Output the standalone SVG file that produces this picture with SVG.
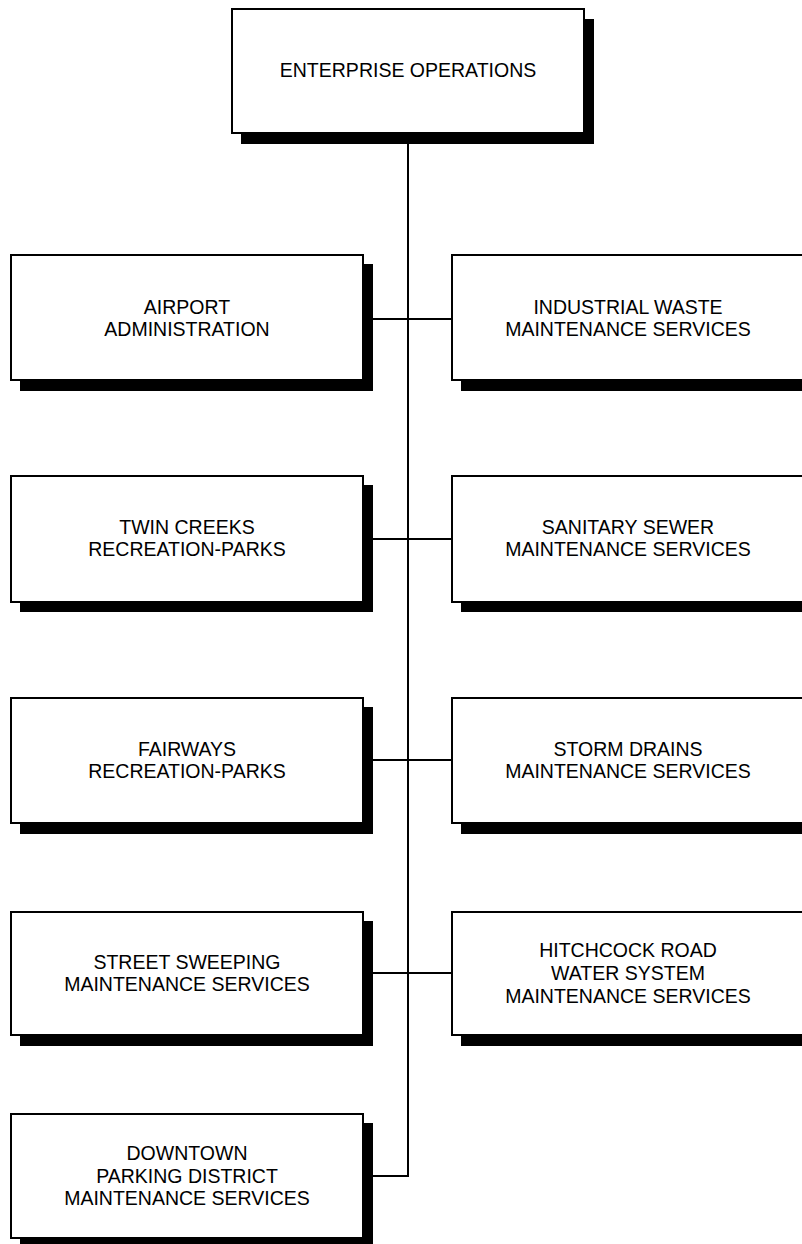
<svg xmlns="http://www.w3.org/2000/svg" width="802" height="1244" viewBox="0 0 802 1244">
<style>
.sh{fill:#000}
.bx{fill:#fff;stroke:#000;stroke-width:2}
.t{font-family:"Liberation Sans",Arial,sans-serif;font-size:19.5px;fill:#000;text-anchor:middle}
.c{fill:none;stroke:#000;stroke-width:2}
</style>
<rect width="802" height="1244" fill="#fff"/>
<g id="connectors">
<path class="c" d="M408,143 V1176 H373"/>
<path class="c" d="M373,319 H452"/>
<path class="c" d="M373,539 H452"/>
<path class="c" d="M373,760 H452"/>
<path class="c" d="M373,973 H452"/>
</g>
<g id="enterprise">
<rect class="sh" x="241" y="19" width="353" height="125"/>
<rect class="bx" x="232" y="9" width="352" height="124"/>
<text class="t" x="408" y="77">ENTERPRISE OPERATIONS</text>
</g>
<g id="airport">
<rect class="sh" x="20" y="264" width="353" height="127"/>
<rect class="bx" x="11" y="255" width="352" height="125"/>
<text class="t" x="187" y="314">AIRPORT</text>
<text class="t" x="187" y="336">ADMINISTRATION</text>
</g>
<g id="industrial">
<rect class="sh" x="461" y="264" width="353" height="127"/>
<rect class="bx" x="452" y="255" width="352" height="125"/>
<text class="t" x="628" y="314">INDUSTRIAL WASTE</text>
<text class="t" x="628" y="336">MAINTENANCE SERVICES</text>
</g>
<g id="twincreeks">
<rect class="sh" x="20" y="485" width="353" height="127"/>
<rect class="bx" x="11" y="476" width="352" height="126"/>
<text class="t" x="187" y="534">TWIN CREEKS</text>
<text class="t" x="187" y="556">RECREATION-PARKS</text>
</g>
<g id="sanitary">
<rect class="sh" x="461" y="485" width="353" height="127"/>
<rect class="bx" x="452" y="476" width="352" height="126"/>
<text class="t" x="628" y="534">SANITARY SEWER</text>
<text class="t" x="628" y="556">MAINTENANCE SERVICES</text>
</g>
<g id="fairways">
<rect class="sh" x="20" y="707" width="353" height="127"/>
<rect class="bx" x="11" y="698" width="352" height="125"/>
<text class="t" x="187" y="756">FAIRWAYS</text>
<text class="t" x="187" y="778">RECREATION-PARKS</text>
</g>
<g id="storm">
<rect class="sh" x="461" y="707" width="353" height="127"/>
<rect class="bx" x="452" y="698" width="352" height="125"/>
<text class="t" x="628" y="756">STORM DRAINS</text>
<text class="t" x="628" y="778">MAINTENANCE SERVICES</text>
</g>
<g id="street">
<rect class="sh" x="20" y="921" width="353" height="125"/>
<rect class="bx" x="11" y="912" width="352" height="123"/>
<text class="t" x="187" y="969">STREET SWEEPING</text>
<text class="t" x="187" y="991">MAINTENANCE SERVICES</text>
</g>
<g id="hitchcock">
<rect class="sh" x="461" y="921" width="353" height="125"/>
<rect class="bx" x="452" y="912" width="352" height="123"/>
<text class="t" x="628" y="957">HITCHCOCK ROAD</text>
<text class="t" x="628" y="980">WATER SYSTEM</text>
<text class="t" x="628" y="1003">MAINTENANCE SERVICES</text>
</g>
<g id="downtown">
<rect class="sh" x="20" y="1123" width="353" height="127"/>
<rect class="bx" x="11" y="1114" width="352" height="124"/>
<text class="t" x="187" y="1160">DOWNTOWN</text>
<text class="t" x="187" y="1183">PARKING DISTRICT</text>
<text class="t" x="187" y="1205">MAINTENANCE SERVICES</text>
</g>
</svg>
